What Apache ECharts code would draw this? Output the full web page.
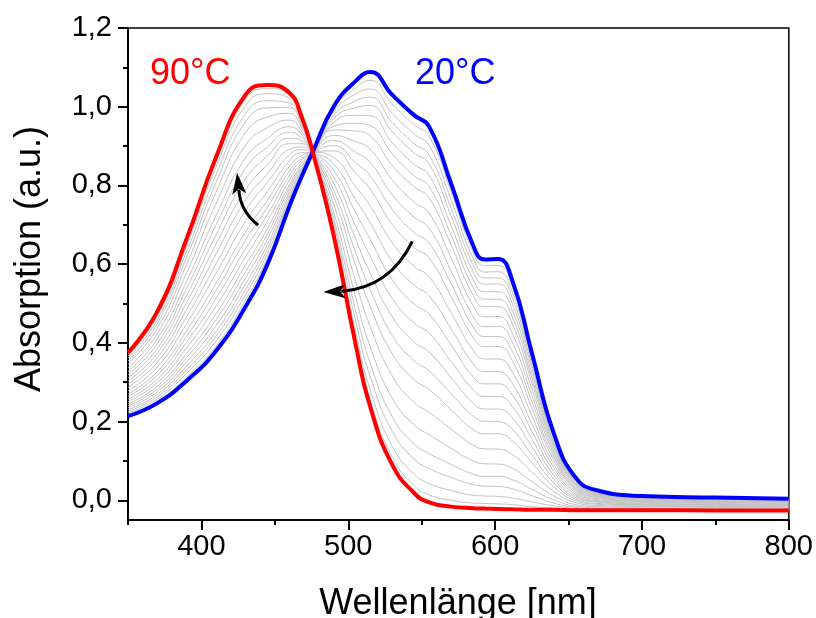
<!DOCTYPE html>
<html><head><meta charset="utf-8">
<script src="https://cdn.jsdelivr.net/npm/echarts@6/dist/echarts.min.js"></script>
<style>html,body{margin:0;padding:0;background:#fff}#c{width:816px;height:618px}</style>
</head><body><div id="c"></div>
<script>
// Wavelength grid [nm]
const wavelengths = [350,370,390,410,430,445,460,468,476,490,505,515,530,545,555,570,585,593,602,612,625,640,655,670,700,750,800];
// 90 °C spectrum (red)
const abs90C = [0.375,0.48,0.665,0.872,1.03,1.055,1.035,0.977,0.882,0.674,0.396,0.237,0.090,0.018,-0.005,-0.016,-0.020,-0.021,-0.022,-0.023,-0.024,-0.024,-0.025,-0.025,-0.025,-0.026,-0.026];
// 20 °C spectrum (blue)
const abs20C = [0.214,0.247,0.304,0.380,0.492,0.600,0.748,0.820,0.887,1.000,1.065,1.088,1.030,0.978,0.950,0.805,0.648,0.612,0.613,0.555,0.375,0.170,0.057,0.025,0.011,0.007,0.004];
// intermediate temperatures (grey), ordered from near-20 °C to near-90 °C
const grayCurves = [
[0.218,0.251,0.314,0.392,0.508,0.616,0.755,0.824,0.885,0.995,1.048,1.067,1.007,0.954,0.926,0.785,0.631,0.596,0.597,0.541,0.365,0.165,0.053,0.023,0.010,0.006,0.003],
[0.222,0.257,0.323,0.405,0.522,0.628,0.763,0.828,0.885,0.987,1.032,1.045,0.983,0.930,0.902,0.764,0.615,0.580,0.581,0.526,0.355,0.160,0.051,0.022,0.009,0.005,0.003],
[0.226,0.263,0.332,0.417,0.535,0.639,0.769,0.832,0.885,0.978,1.015,1.024,0.960,0.906,0.878,0.743,0.598,0.565,0.565,0.512,0.345,0.155,0.049,0.020,0.008,0.005,0.002],
[0.230,0.269,0.341,0.429,0.549,0.650,0.777,0.835,0.885,0.970,0.998,1.003,0.936,0.882,0.855,0.723,0.581,0.549,0.550,0.497,0.335,0.151,0.047,0.019,0.007,0.004,0.001],
[0.235,0.276,0.352,0.444,0.565,0.664,0.785,0.840,0.885,0.960,0.978,0.977,0.908,0.853,0.826,0.698,0.561,0.530,0.530,0.480,0.323,0.145,0.045,0.018,0.006,0.003,0.000],
[0.240,0.283,0.363,0.459,0.581,0.677,0.794,0.845,0.885,0.950,0.958,0.952,0.880,0.824,0.797,0.674,0.541,0.511,0.511,0.463,0.311,0.139,0.042,0.016,0.005,0.002,-0.001],
[0.245,0.290,0.373,0.474,0.597,0.691,0.802,0.850,0.884,0.941,0.938,0.926,0.851,0.796,0.769,0.649,0.521,0.492,0.492,0.445,0.299,0.133,0.040,0.015,0.004,0.001,-0.002],
[0.251,0.299,0.388,0.493,0.618,0.709,0.814,0.856,0.884,0.927,0.911,0.892,0.814,0.757,0.730,0.616,0.494,0.466,0.467,0.422,0.283,0.125,0.037,0.013,0.003,-0.001,-0.003],
[0.257,0.308,0.402,0.513,0.639,0.726,0.826,0.863,0.884,0.914,0.884,0.858,0.776,0.719,0.692,0.583,0.468,0.441,0.442,0.399,0.267,0.118,0.033,0.011,0.001,-0.002,-0.004],
[0.264,0.318,0.417,0.533,0.661,0.745,0.837,0.868,0.884,0.901,0.858,0.824,0.739,0.680,0.654,0.551,0.441,0.416,0.416,0.376,0.251,0.110,0.030,0.009,0.000,-0.003,-0.005],
[0.270,0.327,0.431,0.552,0.682,0.763,0.849,0.875,0.884,0.888,0.831,0.790,0.701,0.642,0.616,0.518,0.414,0.390,0.391,0.353,0.235,0.102,0.027,0.007,-0.002,-0.005,-0.007],
[0.278,0.339,0.449,0.577,0.709,0.785,0.863,0.883,0.884,0.871,0.797,0.748,0.654,0.594,0.568,0.477,0.381,0.359,0.359,0.324,0.215,0.092,0.023,0.004,-0.003,-0.006,-0.008],
[0.287,0.351,0.467,0.601,0.736,0.808,0.878,0.891,0.884,0.855,0.764,0.705,0.607,0.546,0.520,0.436,0.347,0.327,0.327,0.295,0.195,0.083,0.019,0.002,-0.005,-0.008,-0.010],
[0.295,0.363,0.485,0.626,0.763,0.830,0.892,0.898,0.884,0.839,0.731,0.663,0.560,0.498,0.473,0.395,0.314,0.296,0.296,0.266,0.176,0.073,0.015,-0.001,-0.007,-0.010,-0.011],
[0.303,0.374,0.503,0.651,0.789,0.853,0.906,0.906,0.883,0.822,0.697,0.620,0.513,0.450,0.425,0.353,0.281,0.264,0.264,0.237,0.156,0.063,0.011,-0.003,-0.009,-0.011,-0.013],
[0.311,0.386,0.521,0.675,0.816,0.875,0.920,0.914,0.883,0.806,0.664,0.577,0.466,0.402,0.377,0.312,0.247,0.232,0.232,0.208,0.136,0.054,0.007,-0.005,-0.011,-0.013,-0.014],
[0.319,0.398,0.539,0.700,0.843,0.898,0.935,0.922,0.883,0.789,0.630,0.535,0.419,0.354,0.329,0.271,0.214,0.201,0.200,0.179,0.116,0.044,0.003,-0.008,-0.012,-0.015,-0.016],
[0.327,0.410,0.557,0.724,0.870,0.920,0.949,0.930,0.883,0.773,0.597,0.492,0.372,0.306,0.282,0.230,0.180,0.169,0.169,0.150,0.096,0.034,-0.001,-0.010,-0.014,-0.016,-0.017],
[0.336,0.424,0.579,0.754,0.902,0.947,0.966,0.939,0.883,0.753,0.557,0.441,0.316,0.248,0.224,0.181,0.140,0.131,0.130,0.116,0.072,0.023,-0.006,-0.013,-0.016,-0.018,-0.019],
[0.346,0.438,0.600,0.783,0.934,0.974,0.983,0.949,0.883,0.733,0.516,0.390,0.259,0.191,0.167,0.132,0.100,0.093,0.092,0.081,0.048,0.011,-0.011,-0.016,-0.019,-0.020,-0.021],
[0.354,0.450,0.618,0.808,0.961,0.997,0.998,0.956,0.882,0.717,0.483,0.348,0.212,0.143,0.119,0.091,0.067,0.061,0.061,0.052,0.028,0.001,-0.015,-0.019,-0.020,-0.022,-0.022],
[0.361,0.459,0.633,0.828,0.982,1.015,1.009,0.962,0.882,0.704,0.456,0.314,0.175,0.104,0.081,0.058,0.040,0.036,0.035,0.029,0.012,-0.007,-0.018,-0.021,-0.022,-0.023,-0.023],
[0.367,0.468,0.647,0.847,1.003,1.033,1.021,0.969,0.882,0.690,0.429,0.280,0.137,0.066,0.043,0.025,0.013,0.011,0.010,0.006,-0.004,-0.014,-0.021,-0.023,-0.023,-0.024,-0.025],
[0.372,0.475,0.658,0.862,1.019,1.046,1.030,0.974,0.882,0.681,0.409,0.254,0.109,0.037,0.014,0.000,-0.007,-0.008,-0.009,-0.011,-0.016,-0.020,-0.023,-0.024,-0.024,-0.025,-0.025]
];
const yTicks = [0, 0.2, 0.4, 0.6, 0.8, 1.0, 1.2];
const yMinorTicks = [0.1, 0.3, 0.5, 0.7, 0.9, 1.1];
const xTicks = [400, 500, 600, 700, 800];
const xMinorTicks = [350, 450, 550, 650, 750];
const tempLabels = {hot: '90°C', cold: '20°C'};
const axisTitles = {x: 'Wellenlänge [nm]', y: 'Absorption (a.u.)'};
// arrow annotations in data coordinates: [tail, control, head base, tip]
const arrowUp = [[438.6, 0.699], [426.4, 0.735], [425.7, 0.781], [424.3, 0.832]];
const arrowLeft = [[543.6, 0.658], [528.6, 0.541], [497.3, 0.531], [483.0, 0.529]];

const FONT = 'Liberation Sans, Arial, Helvetica, sans-serif';
const pairs = (ys) => wavelengths.map((x, i) => [x, ys[i]]);

const series = [];
grayCurves.forEach((c) => {
  series.push({
    type: 'line', data: pairs(c),
    showSymbol: false, symbol: 'none', smooth: 0.5,
    lineStyle: {color: '#c2c2c2', width: 1}, z: 2, silent: true,
    emphasis: {disabled: true}
  });
});
series.push({
  name: '20', type: 'line', data: pairs(abs20C), showSymbol: false, symbol: 'none',
  smooth: 0.5, lineStyle: {color: '#0000ff', width: 4}, z: 3, silent: true,
  emphasis: {disabled: true}
});
series.push({
  name: '90', type: 'line', data: pairs(abs90C), showSymbol: false, symbol: 'none',
  smooth: 0.5, lineStyle: {color: '#ff0000', width: 4}, z: 4, silent: true,
  emphasis: {disabled: true}
});

const chart = echarts.init(document.getElementById('c'), null, {renderer: 'canvas'});
const tickFmt = (v) => v.toFixed(1).replace('.', ',');
chart.setOption({
  animation: false,
  backgroundColor: '#fff',
  textStyle: {fontFamily: FONT},
  grid: {left: 128, right: 27, top: 28, bottom: 98, show: true, borderColor: '#000', borderWidth: 1.5, backgroundColor: 'transparent'},
  xAxis: [
    {type: 'value', min: 350, max: 800,
     axisLine: {show: true, onZero: false, lineStyle: {color: '#000', width: 2}},
     axisTick: {show: true, length: 10, customValues: xTicks, lineStyle: {color: '#000', width: 2}},
     axisLabel: {customValues: xTicks, color: '#000', fontSize: 29, fontFamily: FONT, margin: 12},
     splitLine: {show: false}},
    {type: 'value', min: 350, max: 800, position: 'bottom',
     axisLine: {show: false, onZero: false},
     axisTick: {show: true, length: 5, customValues: xMinorTicks, lineStyle: {color: '#000', width: 2}},
     axisLabel: {show: false}, splitLine: {show: false}}
  ],
  yAxis: [
    {type: 'value', min: -0.05, max: 1.2,
     axisLine: {show: true, onZero: false, lineStyle: {color: '#000', width: 2}},
     axisTick: {show: true, length: 10, customValues: yTicks, lineStyle: {color: '#000', width: 2}},
     axisLabel: {customValues: yTicks, formatter: tickFmt, color: '#000', fontSize: 29, fontFamily: FONT, margin: 16},
     splitLine: {show: false}},
    {type: 'value', min: -0.05, max: 1.2, position: 'left',
     axisLine: {show: false, onZero: false},
     axisTick: {show: true, length: 5, customValues: yMinorTicks, lineStyle: {color: '#000', width: 2}},
     axisLabel: {show: false}, splitLine: {show: false}}
  ],
  series: series
});

// curved arrows, positioned through the chart's own scales
function arrowGraphics(pts) {
  const p = pts.map((d) => chart.convertToPixel({gridIndex: 0}, d));
  const [t, c, b, tip] = p;
  const ux = tip[0] - b[0], uy = tip[1] - b[1];
  const len = Math.hypot(ux, uy);
  const ex = ux / len, ey = uy / len;
  const nx = -ey, ny = ex, hw = 7;
  return [
    {type: 'bezierCurve', silent: true, z: 100,
     shape: {x1: t[0], y1: t[1], cpx1: c[0], cpy1: c[1], x2: b[0] + ex * 3, y2: b[1] + ey * 3},
     style: {stroke: '#000', lineWidth: 3, fill: null}},
    {type: 'polygon', silent: true, z: 101,
     shape: {points: [
       tip,
       [b[0] + nx * hw - ex * 1, b[1] + ny * hw - ey * 1],
       [b[0] + ex * 4, b[1] + ey * 4],
       [b[0] - nx * hw - ex * 1, b[1] - ny * hw - ey * 1]
     ]},
     style: {fill: '#000'}}
  ];
}

chart.setOption({
  graphic: [
    {type: 'text', left: 150, top: 56, silent: true,
     style: {text: tempLabels.hot, fill: '#ff0000', font: '36px ' + FONT}},
    {type: 'text', left: 415, top: 56, silent: true,
     style: {text: tempLabels.cold, fill: '#0000ff', font: '36px ' + FONT}},
    {type: 'text', x: 30, y: 259, rotation: Math.PI / 2, silent: true,
     style: {text: axisTitles.y, fill: '#000', font: '36px ' + FONT, align: 'center', verticalAlign: 'middle'}},
    {type: 'text', x: 458, y: 604, silent: true,
     style: {text: axisTitles.x, fill: '#000', font: '36px ' + FONT, align: 'center', verticalAlign: 'middle'}}
  ].concat(arrowGraphics(arrowUp), arrowGraphics(arrowLeft))
});
</script>
</body></html>
